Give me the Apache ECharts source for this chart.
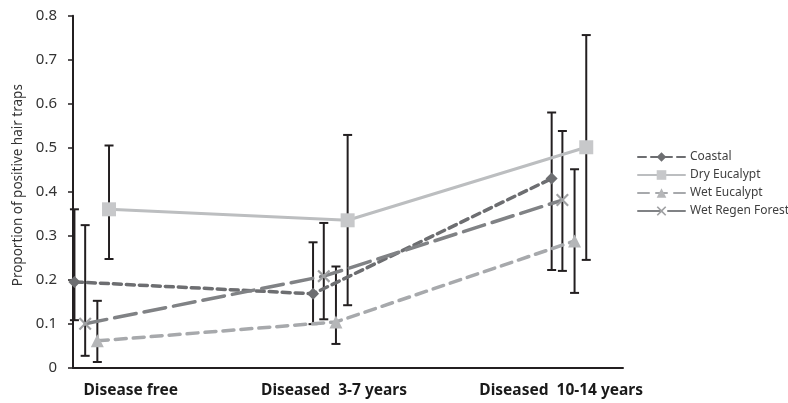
<!DOCTYPE html>
<html>
<head>
<meta charset="utf-8">
<script src="https://cdn.jsdelivr.net/npm/echarts@6/dist/echarts.min.js"></script>
<style>html,body{margin:0;padding:0;background:#fff;}#c{width:788px;height:403px;}</style>
</head>
<body>
<div id="c"></div>
<script>
var categories = ['Disease free', 'Diseased  3-7 years', 'Diseased  10-14 years'];
var yTicks = [0, 0.1, 0.2, 0.3, 0.4, 0.5, 0.6, 0.7, 0.8];

var coastal = [0.195, 0.168, 0.430];
var coastalLow = [0.108, 0.099, 0.222];
var coastalHigh = [0.360, 0.285, 0.580];

var dryEuc = [0.360, 0.335, 0.501];
var dryEucLow = [0.247, 0.142, 0.245];
var dryEucHigh = [0.505, 0.529, 0.756];

var wetEuc = [0.061, 0.104, 0.288];
var wetEucLow = [0.013, 0.054, 0.170];
var wetEucHigh = [0.152, 0.230, 0.451];

var wetRegen = [0.100, 0.208, 0.381];
var wetRegenLow = [0.027, 0.110, 0.220];
var wetRegenHigh = [0.324, 0.329, 0.538];

var FONT = 'Noto Sans';
var labelPos = [0.162, 1.014, 1.966];

function pts(vals, off) {
  return vals.map(function (v, i) { return [i + off, v]; });
}
function bars(low, high, off) {
  return low.map(function (l, i) { return [i + off, l, high[i]]; });
}

var xMark = 'path://M0,1.2L1.2,0L5,3.8L8.8,0L10,1.2L6.2,5L10,8.8L8.8,10L5,6.2L1.2,10L0,8.8L3.8,5Z';

var seriesDefs = [
  { name: 'Coastal', vals: coastal, low: coastalLow, high: coastalHigh, off: -0.074,
    color: '#6d6e71', type: [8, 5], width: 3.5, symbol: 'diamond', size: 12, sColor: '#6d6e71' },
  { name: 'Dry Eucalypt', vals: dryEuc, low: dryEucLow, high: dryEucHigh, off: 0.071,
    color: '#bcbec0', type: 'solid', width: 3, symbol: 'rect', size: 14, sColor: '#c7c8ca' },
  { name: 'Wet Eucalypt', vals: wetEuc, low: wetEucLow, high: wetEucHigh, off: 0.022,
    color: '#a7a9ac', type: [11, 7], width: 3.5, symbol: 'triangle', size: 13, sColor: '#b5b6b8' },
  { name: 'Wet Regen Forest', vals: wetRegen, low: wetRegenLow, high: wetRegenHigh, off: -0.029,
    color: '#808285', type: [22, 8], width: 3.5, symbol: xMark, size: 13, sColor: '#a0a1a3' }
];

var series = [];
seriesDefs.forEach(function (d) {
  series.push({
    type: 'custom',
    name: d.name + ' err',
    data: bars(d.low, d.high, d.off),
    z: 2,
    silent: true,
    renderItem: function (params, api) {
      var x = api.value(0);
      var pLow = api.coord([x, api.value(1)]);
      var pHigh = api.coord([x, api.value(2)]);
      var cap = 4.5;
      var st = { stroke: '#231f20', lineWidth: 2 };
      return {
        type: 'group',
        children: [
          { type: 'line', shape: { x1: pLow[0], y1: pLow[1], x2: pHigh[0], y2: pHigh[1] }, style: st },
          { type: 'line', shape: { x1: pLow[0] - cap, y1: pLow[1], x2: pLow[0] + cap, y2: pLow[1] }, style: st },
          { type: 'line', shape: { x1: pHigh[0] - cap, y1: pHigh[1], x2: pHigh[0] + cap, y2: pHigh[1] }, style: st }
        ]
      };
    }
  });
});
seriesDefs.forEach(function (d) {
  series.push({
    type: 'line',
    name: d.name,
    data: pts(d.vals, d.off),
    z: 3,
    symbol: d.symbol,
    symbolSize: d.size,
    showAllSymbol: true,
    lineStyle: { color: d.color, width: d.width, type: d.type, cap: 'round' },
    itemStyle: { color: d.sColor, borderWidth: 0, opacity: 1 },
    emphasis: { disabled: true },
    animation: false
  });
});

var chart = echarts.init(document.getElementById('c'), null, { renderer: 'canvas' });
chart.setOption({
  animation: false,
  backgroundColor: '#ffffff',
  textStyle: { fontFamily: FONT },
  grid: { left: 73, right: 165, top: 15.7, bottom: 35.3, containLabel: false },
  legend: {
    data: seriesDefs.map(function (d) { return d.name; }),
    orient: 'vertical',
    left: 632,
    top: 146,
    itemGap: 6,
    itemWidth: 47,
    itemHeight: 12,
    textStyle: { fontFamily: FONT, fontSize: 12, color: '#404040', overflow: 'none', width: 110 },
    selectedMode: false
  },
  xAxis: {
    type: 'value',
    min: -0.08,
    max: 2.225,
    splitLine: { show: false },
    axisLine: { show: true, onZero: false, lineStyle: { color: '#231f20', width: 2 } },
    axisTick: { show: false },
    axisLabel: {
      customValues: labelPos,
      formatter: function (v, i) {
        var k = labelPos.indexOf(v);
        if (k < 0) k = i;
        return categories[k];
      },
      fontFamily: FONT, fontSize: 15.5, fontWeight: 'bold', color: '#1a1a1a', margin: 15
    }
  },
  yAxis: {
    type: 'value',
    min: yTicks[0],
    max: yTicks[yTicks.length - 1],
    interval: 0.1,
    name: 'Proportion of positive hair traps',
    nameLocation: 'middle',
    nameGap: 48,
    nameTextStyle: { fontFamily: FONT, fontSize: 13.5, color: '#333333', padding: [0, 0, 0, 13] },
    splitLine: { show: false },
    axisLine: { show: true, onZero: false, lineStyle: { color: '#231f20', width: 2 } },
    axisTick: { show: true, length: 5, lineStyle: { color: '#231f20', width: 1.5 } },
    axisLabel: {
      fontFamily: FONT, fontSize: 15, color: '#333333', margin: 16,
      formatter: function (v) { return v === 0 ? '0' : v.toFixed(1); }
    }
  },
  series: series
});
</script>
</body>
</html>
